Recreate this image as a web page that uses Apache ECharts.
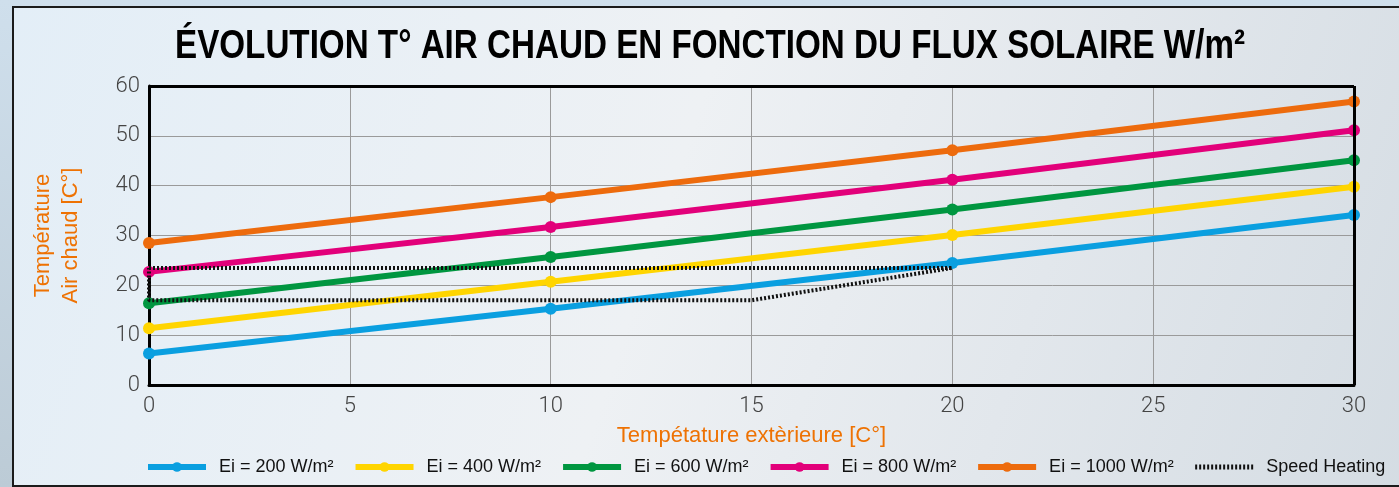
<!DOCTYPE html>
<html><head><meta charset="utf-8">
<script src="https://cdn.jsdelivr.net/npm/echarts@6/dist/echarts.min.js"></script>
<style>
html,body{margin:0;padding:0;width:1399px;height:487px;overflow:hidden;
background:linear-gradient(180deg,#cfdfec 0%,#bccbd6 100%);}
#c{width:1399px;height:487px;}
</style></head><body><div id="c"></div>
<script>
const xValues = [0, 10, 20, 30];
const ei200 = [6.3, 15.3, 24.5, 34.1];
const ei400 = [11.4, 20.7, 30.1, 39.8];
const ei600 = [16.4, 25.7, 35.2, 45.1];
const ei800 = [22.7, 31.7, 41.2, 51.1];
const ei1000 = [28.5, 37.7, 47.1, 56.9];
const speedX = [0, 20, 15, 0, 0];
const speedY = [23.5, 23.5, 17, 17, 23.5];
const seriesNames = ['Ei = 200 W/m²', 'Ei = 400 W/m²', 'Ei = 600 W/m²', 'Ei = 800 W/m²', 'Ei = 1000 W/m²', 'Speed Heating'];
const colors = ['#0a9fe0', '#ffd500', '#009640', '#e2007a', '#ed6b0d'];
const title = 'ÉVOLUTION T° AIR CHAUD EN FONCTION DU FLUX SOLAIRE W/m²';
const xName = 'Tempétature extèrieure [C°]';
const yName = 'Température\nAir chaud [C°]';

// condensed title: measure natural width, squeeze horizontally to the target span
const titleFont = 'bold 40px "Liberation Sans"';
const mctx = document.createElement('canvas').getContext('2d');
mctx.font = titleFont;
const titleW = mctx.measureText(title).width;
const titleTarget = 1070;
const titleScale = titleTarget / titleW;

const chart = echarts.init(document.getElementById('c'), null, {renderer:'canvas'});
const pairs = ys => xValues.map((x,i)=>[x, ys[i]]);
const mk = (name, ys, color) => ({
  name, type:'line', data: pairs(ys), color,
  symbol:'circle', symbolSize:12, showSymbol:true,
  lineStyle:{width:6, color}, itemStyle:{color}, z:3
});
const legendData = seriesNames.map((n,i)=> i<5
  ? {name:n, lineStyle:{width:6, color:colors[i]}}
  : {name:n, lineStyle:{width:5, color:'#111', type:[2,2]}, itemStyle:{color:'rgba(0,0,0,0)', opacity:0}});
chart.setOption({
  backgroundColor:'transparent',
  animation:false,
  graphic:[{
    type:'rect', z:-10, silent:true,
    shape:{x:13, y:7, width:1440, height:479},
    style:{stroke:'#1b1b1b', lineWidth:2,
      fill:new echarts.graphic.LinearGradient(0,0,1,1,[
        {offset:0,color:'#e3eef7'},{offset:0.45,color:'#eef1f4'},{offset:0.7,color:'#e2e7ec'},{offset:1,color:'#d3dbe2'}])}
  },{
    type:'text', z:10, silent:true,
    x:710, y:47, scaleX:titleScale, scaleY:1,
    style:{text:title, font:titleFont, fill:'#000', align:'center', verticalAlign:'middle'}
  }],
  grid:{left:149, right:45, top:86, bottom:102, containLabel:false, show:false},
  legend:{left:145, top:458, width:1254, padding:0, itemGap:19, itemWidth:58, itemHeight:12,
    textStyle:{fontFamily:'Liberation Sans', fontSize:18, color:'#111', padding:[0,0,0,8]},
    data:legendData},
  xAxis:{type:'value', min:0, max:30, interval:5,
    name:xName, nameLocation:'middle', nameGap:40,
    nameTextStyle:{color:'#ee7203', fontFamily:'Liberation Sans', fontSize:22},
    axisLine:{show:true, lineStyle:{color:'#000', width:3}},
    axisTick:{show:false},
    axisLabel:{color:'#444', fontFamily:'Roboto', fontWeight:300, fontSize:22, margin:10},
    splitLine:{show:true, lineStyle:{color:'#9a9a9a', width:1}}},
  yAxis:{type:'value', min:0, max:60, interval:10,
    name:yName, nameLocation:'middle', nameGap:64, nameRotate:90,
    nameTextStyle:{color:'#ee7203', fontFamily:'Liberation Sans', fontSize:22, lineHeight:28},
    axisLine:{show:true, lineStyle:{color:'#000', width:3}},
    axisTick:{show:false},
    axisLabel:{color:'#444', fontFamily:'Roboto', fontWeight:300, fontSize:22, margin:9},
    splitLine:{show:true, lineStyle:{color:'#9a9a9a', width:1}}},
  series:[
    mk(seriesNames[0], ei200, colors[0]),
    mk(seriesNames[1], ei400, colors[1]),
    mk(seriesNames[2], ei600, colors[2]),
    mk(seriesNames[3], ei800, colors[3]),
    mk(seriesNames[4], ei1000, colors[4]),
    {name:seriesNames[5], type:'line', data:speedX.map((x,i)=>[x,speedY[i]]),
      symbol:'none', color:'#111', z:4,
      lineStyle:{width:4, color:'#111', type:[2,2]}},
    {type:'line', data:[], markLine:{silent:true, symbol:'none', label:{show:false},
      lineStyle:{color:'#000', width:3, type:'solid'},
      data:[[{coord:[0,60]},{coord:[30,60]}],[{coord:[30,0]},{coord:[30,60]}]]}}
  ]
});
</script></body></html>
